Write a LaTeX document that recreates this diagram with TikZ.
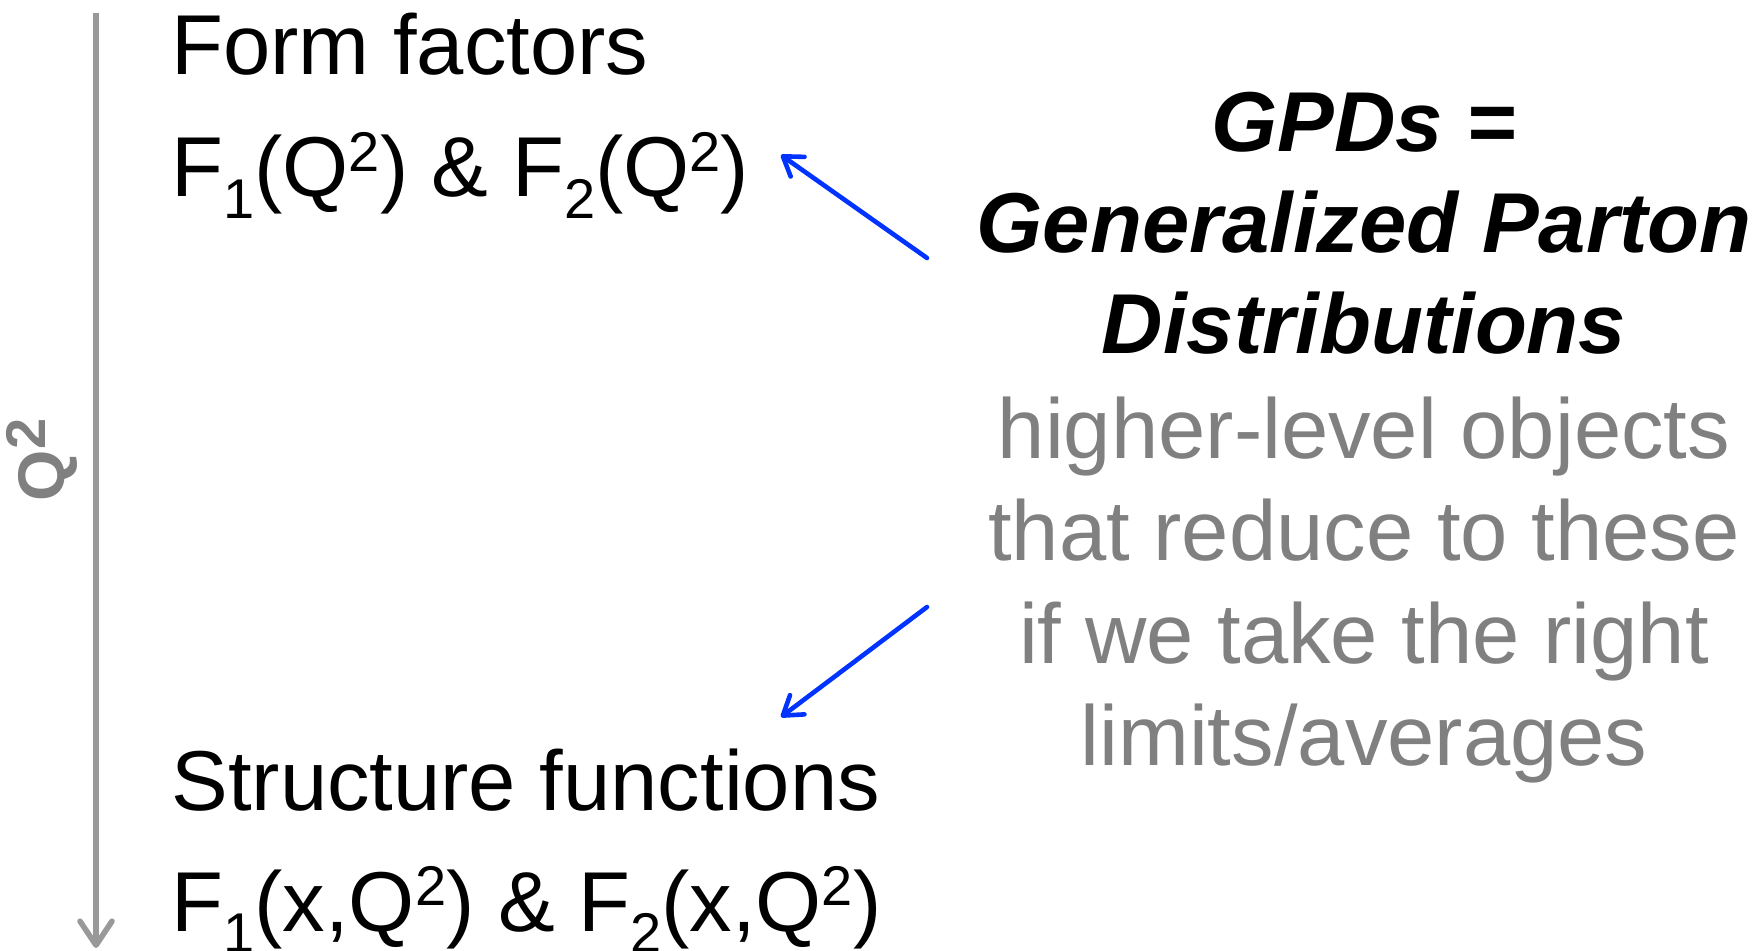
\documentclass[tikz,border=0pt]{standalone}
\usepackage{fontspec}
\setmainfont{Liberation Sans}
\usetikzlibrary{arrows.meta}
\definecolor{axisgray}{HTML}{999999}
\definecolor{notegray}{HTML}{808080}
\definecolor{pointblue}{HTML}{0033FF}
\newcommand{\upsc}[1]{\raisebox{.3em}{\fontsize{28}{28}\selectfont #1}}
\newcommand{\dnsc}[1]{\raisebox{-.25em}{\fontsize{28}{28}\selectfont #1}}
\tikzset{
  bigtext/.style={inner sep=0pt, font=\fontsize{42.5}{51}\selectfont},
  lhs/.style={bigtext, anchor=base west},
  gpd/.style={bigtext, anchor=base, font=\fontsize{42.5}{51}\selectfont\bfseries\itshape},
  note/.style={bigtext, anchor=base, text=notegray},
  pointer/.style={draw=pointblue, line width=2.3pt, line cap=round,
    -{Straight Barb[length=9pt, width=12pt, round]}},
}
\begin{document}
\begin{tikzpicture}[x=0.5pt, y=-0.5pt]
  \useasboundingbox (0,0) rectangle (1756,951);
  % Q^2 axis
  \coordinate (qtop) at (96,13);
  \coordinate (qbot) at (96,948);
  \draw[axisgray, line width=2.8pt, -{Straight Barb[length=12pt, width=16pt, round]}] (qtop) -- (qbot);
  \node[rotate=90, inner sep=0pt, text=notegray, font=\fontsize{33}{33}\selectfont\bfseries] (qlabel) at (42,460) {Q\upsc{2}};
  % left column
  \node[lhs] (ff) at (171,75) {Form factors};
  \node[lhs] (ffeq) at (171,197) {F\dnsc{1}(Q\upsc{2}) \& F\dnsc{2}(Q\upsc{2})};
  \node[lhs] (sf) at (171,810) {Structure functions};
  \node[lhs] (sfeq) at (171,931) {F\dnsc{1}(x,Q\upsc{2}) \& F\dnsc{2}(x,Q\upsc{2})};
  % right column
  \node[gpd] (gpd1) at (1364,152) {GPDs =};
  \node[gpd] (gpd2) at (1364,253) {Generalized Parton};
  \node[gpd] (gpd3) at (1364,354) {Distributions};
  \foreach \txt [count=\i] in {higher-level objects, that reduce to these,
      if we take the right, limits/averages}
    \node[note] (note\i) at (1364,357+102*\i) {\txt};
  % pointers
  \coordinate (upfrom) at (927,258);
  \coordinate (upto) at (781,155);
  \coordinate (dnfrom) at (927,607);
  \coordinate (dnto) at (781,717);
  \draw[pointer] (upfrom) -- (upto);
  \draw[pointer] (dnfrom) -- (dnto);
\end{tikzpicture}
\end{document}
